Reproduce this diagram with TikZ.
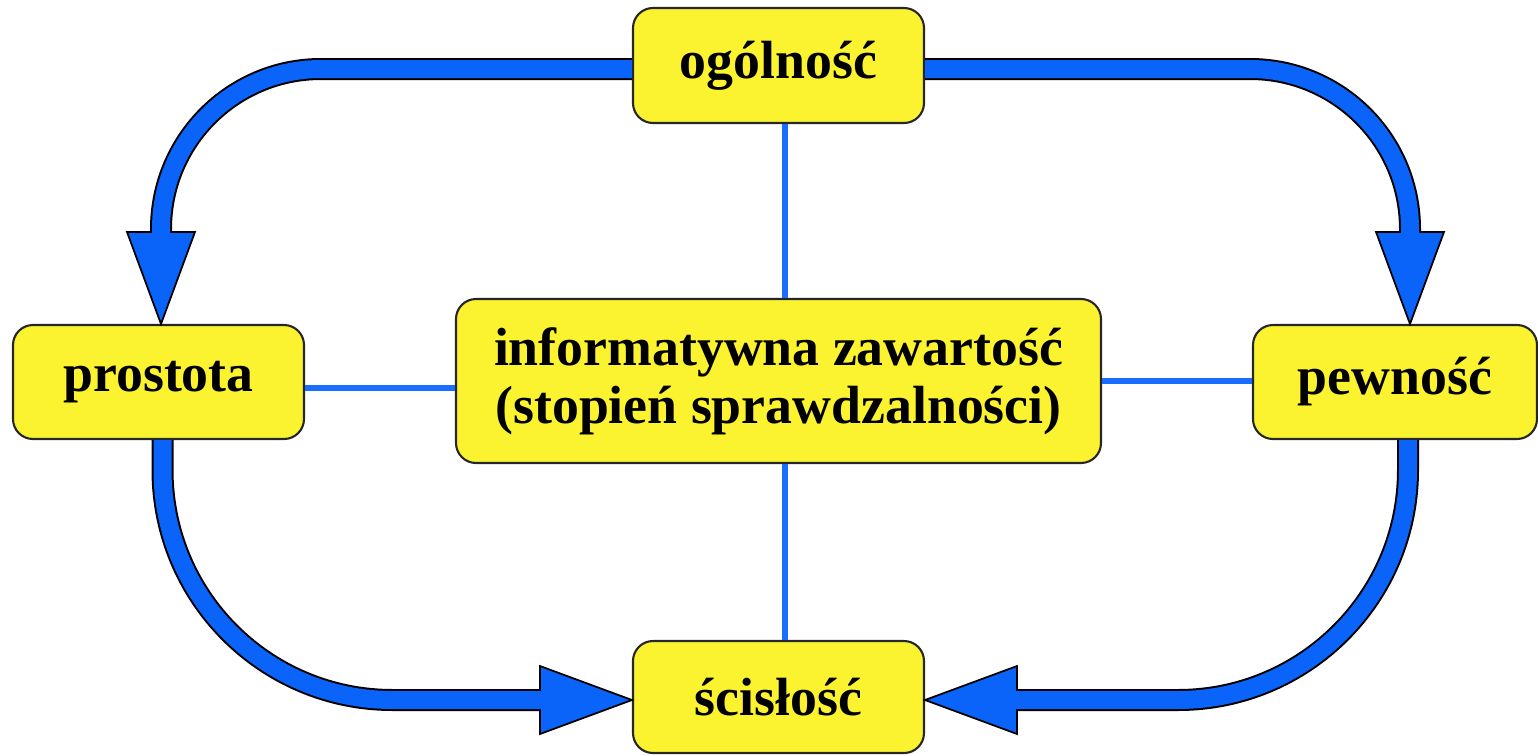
\documentclass[tikz,border=0pt]{standalone}
\usepackage{fontspec}
\setmainfont{Liberation Serif}
\usepackage{tikz}

\definecolor{niebieski}{RGB}{10,100,250}
\definecolor{cienki}{RGB}{25,110,255}
\definecolor{zolty}{RGB}{252,243,48}

% grot strzalki: #1 = czubek, #2 = kierunek
\newcommand{\grot}[2]{\filldraw[grot, shift={(#1)}, rotate=#2] (0,0) -- (-0.92,0.34) -- (-0.92,-0.34) -- cycle;}

\begin{document}
\begin{tikzpicture}
			\tikzset{pole/.style={draw=black!85, fill=zolty, line width=0.6pt, rounded corners=0.2cm, text centered, inner sep=0pt, font=\fontsize{15.3}{16.4}\selectfont\bfseries},
			obrys/.style={draw=black, line width=0.22cm, shorten >=0.9cm},
			rdzen/.style={draw=niebieski, line width=0.18cm, shorten >=0.86cm},
			grot/.style={fill=niebieski, draw=black, line width=0.5pt, line join=miter},
			linia/.style={draw=cienki, line width=1.5pt}};

			\useasboundingbox (0,0) rectangle (15.38,7.55);

			\node[pole, minimum width=2.91cm, minimum height=1.15cm] (ogol) at (7.785, 6.895) {ogólność};
			\node[pole, minimum width=2.91cm, minimum height=1.14cm] (pros) at (1.585, 3.73) {prostota};
			\node[pole, minimum width=6.45cm, minimum height=1.64cm, align=center] (info) at (7.785, 3.74) {informatywna zawartość\\(stopień sprawdzalności)};
			\node[pole, minimum width=2.84cm, minimum height=1.14cm] (pew) at (13.95, 3.73) {pewność};
			\node[pole, minimum width=2.91cm, minimum height=1.12cm] (scis) at (7.785, 0.58) {ścisłość};

			\draw[linia] ([xshift=0.065cm]ogol.south) -- ([xshift=0.065cm]info.north);
			\draw[linia] ([xshift=0.065cm]info.south) -- ([xshift=0.065cm]scis.north);
			\draw[linia] ([yshift=-0.06cm]pros.east) -- ([yshift=-0.06cm]pros.east -| info.west);
			\draw[linia] (info.east) -- (info.east -| pew.west);

			% gorne luki
			\draw[obrys, rounded corners=1.6cm] ([yshift=-0.035cm]ogol.west) -| ([xshift=0.025cm]pros.north);
			\grot{[xshift=0.025cm]pros.north}{-90}
			\draw[rdzen, rounded corners=1.6cm] ([yshift=-0.035cm]ogol.west) -| ([xshift=0.025cm]pros.north);

			\draw[obrys, rounded corners=1.6cm] ([yshift=-0.035cm]ogol.east) -| ([xshift=0.15cm]pew.north);
			\grot{[xshift=0.15cm]pew.north}{-90}
			\draw[rdzen, rounded corners=1.6cm] ([yshift=-0.035cm]ogol.east) -| ([xshift=0.15cm]pew.north);

			% dolne luki
			\draw[obrys, rounded corners=2.3cm] ([xshift=0.04cm]pros.south) |- ([yshift=-0.03cm]scis.west);
			\grot{[yshift=-0.03cm]scis.west}{0}
			\draw[rdzen, rounded corners=2.3cm] ([xshift=0.04cm]pros.south) |- ([yshift=-0.03cm]scis.west);

			\draw[obrys, rounded corners=2.3cm] ([xshift=0.13cm]pew.south) |- ([yshift=-0.03cm]scis.east);
			\grot{[yshift=-0.03cm]scis.east}{180}
			\draw[rdzen, rounded corners=2.3cm] ([xshift=0.13cm]pew.south) |- ([yshift=-0.03cm]scis.east);
		\end{tikzpicture}
\end{document}
